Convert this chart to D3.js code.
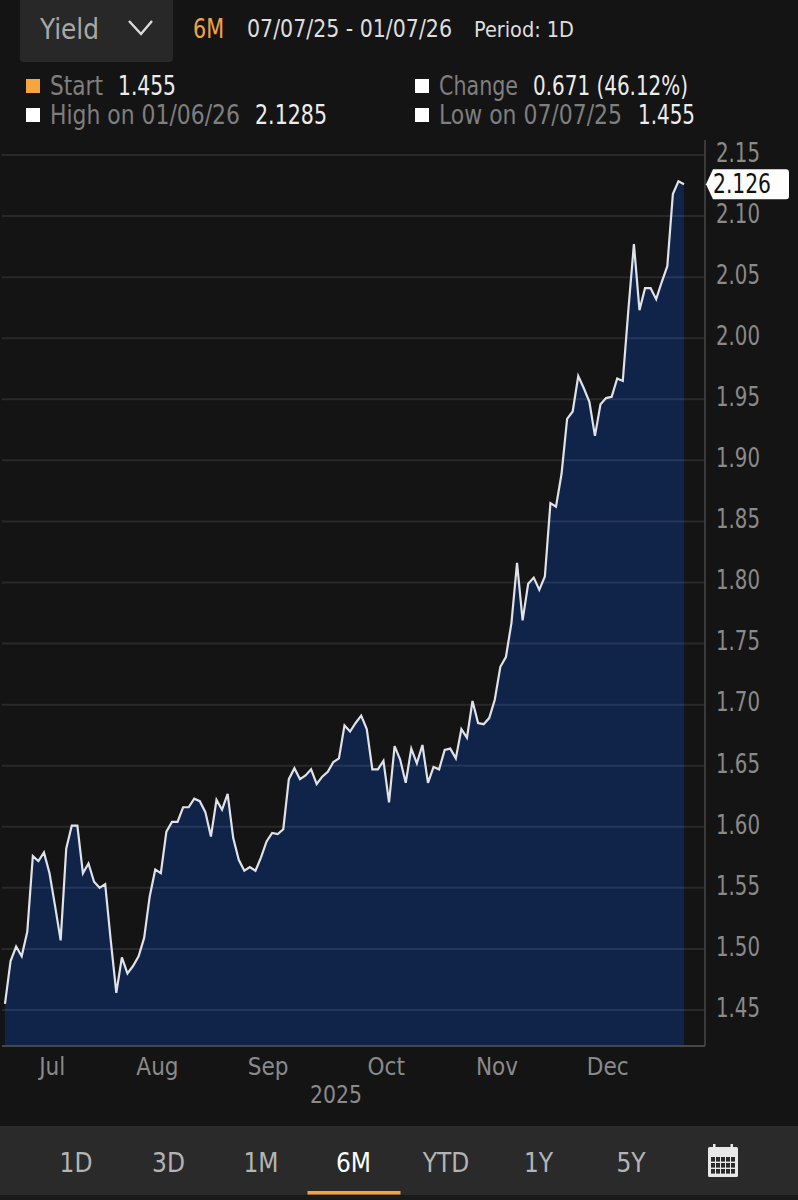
<!DOCTYPE html>
<html>
<head>
<meta charset="utf-8">
<script src="https://cdn.jsdelivr.net/npm/d3@7"></script>
<style>
  html, body { margin: 0; padding: 0; background: #141414; }
  svg { display: block; }
  text { font-family: "Liberation Sans Narrow", "DejaVu Sans Condensed", Roboto, sans-serif; }
</style>
</head>
<body>
<svg id="chart" width="798" height="1200"></svg>
<script>
// daily yield
const yieldValues = [
  1.455, 1.490, 1.502, 1.494, 1.514, 1.576, 1.572, 1.579, 1.562, 1.535,
  1.507, 1.582, 1.601, 1.601, 1.562, 1.570, 1.555, 1.550, 1.553, 1.507,
  1.464, 1.493, 1.480, 1.486, 1.494, 1.509, 1.543, 1.565, 1.562, 1.596,
  1.604, 1.604, 1.616, 1.616, 1.623, 1.621, 1.612, 1.592, 1.622, 1.614,
  1.627, 1.591, 1.573, 1.564, 1.567, 1.564, 1.575, 1.588, 1.595, 1.594,
  1.598, 1.639, 1.648, 1.639, 1.642, 1.647, 1.635, 1.641, 1.645, 1.653,
  1.656, 1.683, 1.678, 1.685, 1.691, 1.680, 1.647, 1.647, 1.654, 1.620,
  1.666, 1.655, 1.636, 1.664, 1.652, 1.667, 1.636, 1.649, 1.647, 1.663,
  1.664, 1.656, 1.680, 1.673, 1.703, 1.685, 1.684, 1.689, 1.704, 1.731,
  1.739, 1.767, 1.816, 1.769, 1.799, 1.804, 1.794, 1.805, 1.865, 1.862,
  1.889, 1.934, 1.940, 1.969, 1.959, 1.948, 1.920, 1.946, 1.951, 1.952,
  1.967, 1.965, 2.023, 2.077, 2.023, 2.041, 2.041, 2.032, 2.046, 2.059,
  2.118, 2.1285, 2.126
];
const lastValue = 2.126;
const yTicks = [2.15, 2.10, 2.05, 2.00, 1.95, 1.90, 1.85, 1.80, 1.75, 1.70, 1.65, 1.60, 1.55, 1.50, 1.45];
const monthLabels = ['Jul', 'Aug', 'Sep', 'Oct', 'Nov', 'Dec'];
const monthCenters = [8.4, 27.3, 47.2, 68.4, 88.3, 108.2]; // in trading days from start
const rangeLabels = ['1D', '3D', '1M', '6M', 'YTD', '1Y', '5Y'];
const activeRange = '6M';

const svg = d3.select('#chart');
const axisX = 705, axisBottom = 1046;

const x = d3.scaleLinear().domain([0, yieldValues.length - 1]).range([5, 684]);
const y = d3.scaleLinear().domain([1.45, 2.15]).range([1010, 155]);

// w squeezes the text to the width it has in the reference
function label(txt, px, py, size, fill, w, anchor) {
  const t = svg.append('text').attr('x', px).attr('y', py)
    .attr('font-size', size).attr('fill', fill)
    .attr('text-anchor', anchor || 'start').text(txt);
  if (w) t.attr('textLength', w).attr('lengthAdjust', 'spacingAndGlyphs');
  return t;
}

// header
svg.append('rect').attr('x', 20).attr('y', -6).attr('width', 153).attr('height', 68).attr('rx', 4).attr('fill', '#282828');
label('Yield', 40, 39, 29, '#a8a8a8', 59);
svg.append('path').attr('d', 'M129,21 L141,34 L152,21').attr('fill', 'none').attr('stroke', '#dcdcdc').attr('stroke-width', 2.4);
label('6M', 193, 38, 27, '#f2a445', 31);
label('07/07/25 - 01/07/26', 247, 37, 24, '#dedede', 205);
label('Period: 1D', 474, 37, 22, '#dedede', 100);

// legend
const gray = '#7f7f7f', white = '#ececec';
svg.append('rect').attr('x', 26).attr('y', 79).attr('width', 14).attr('height', 14).attr('fill', '#f7a63e');
label('Start', 50, 95, 26, gray, 53);
label('1.455', 118, 95, 26, white, 58);
svg.append('rect').attr('x', 415).attr('y', 79).attr('width', 14).attr('height', 14).attr('fill', '#fff');
label('Change', 439, 95, 26, gray, 79);
label('0.671 (46.12%)', 533, 95, 26, white, 155);
svg.append('rect').attr('x', 26).attr('y', 108).attr('width', 14).attr('height', 14).attr('fill', '#fff');
label('High on 01/06/26', 50, 124, 26, gray, 190);
label('2.1285', 255, 124, 26, white, 72);
svg.append('rect').attr('x', 415).attr('y', 108).attr('width', 14).attr('height', 14).attr('fill', '#fff');
label('Low on 07/07/25', 439, 124, 26, gray, 183);
label('1.455', 638, 124, 26, white, 57);

// area + line
const area = d3.area().x((d, i) => x(i)).y0(axisBottom).y1(d => y(d));
const line = d3.line().x((d, i) => x(i)).y(d => y(d));
svg.append('path').datum(yieldValues).attr('d', area).attr('fill', '#10244a');

// grid on top of the area, it shows faintly through
svg.append('g').selectAll('line').data(yTicks).join('line')
  .attr('x1', 2).attr('x2', axisX)
  .attr('y1', d => y(d)).attr('y2', d => y(d))
  .attr('stroke', '#fff').attr('stroke-opacity', 0.09).attr('stroke-width', 2);

svg.append('path').datum(yieldValues).attr('d', line)
  .attr('fill', 'none').attr('stroke', '#dfe2e8').attr('stroke-width', 2.2).attr('stroke-linejoin', 'miter');

// axes
const yAxis = svg.append('g').attr('transform', `translate(${axisX},-2)`)
  .call(d3.axisRight(y).tickValues(yTicks).tickFormat(d3.format('.2f')).tickSize(0).tickPadding(11));
yAxis.select('.domain').remove();
yAxis.selectAll('text').attr('font-size', 26).attr('fill', '#8a8a8a').attr('font-family', null)
  .attr('textLength', 44).attr('lengthAdjust', 'spacingAndGlyphs');
svg.append('line').attr('x1', axisX).attr('x2', axisX).attr('y1', 140).attr('y2', axisBottom).attr('stroke', '#474747').attr('stroke-width', 1.5);

const xAxis = svg.append('g').attr('transform', `translate(0,${axisBottom})`)
  .call(d3.axisBottom(x).tickValues(monthCenters).tickFormat((d, i) => monthLabels[i]).tickSize(0).tickPadding(12));
xAxis.select('.domain').remove();
xAxis.selectAll('text').attr('font-size', 24).attr('fill', '#8a8a8a').attr('font-family', null);
svg.append('line').attr('x1', 2).attr('x2', axisX).attr('y1', axisBottom).attr('y2', axisBottom).attr('stroke', '#474747').attr('stroke-width', 2);
label('2025', 336, 1103, 24, '#8a8a8a', 52, 'middle');

// last value flag
const yl = y(lastValue);
svg.append('path')
  .attr('d', `M706,${yl} L713,${yl - 15} H786 Q789,${yl - 15} 789,${yl - 12} V${yl + 12} Q789,${yl + 15} 786,${yl + 15} H713 Z`)
  .attr('fill', '#fff');
label(lastValue.toFixed(3), 713, yl + 9, 27, '#111', 58);

// bottom bar
svg.append('rect').attr('x', 0).attr('y', 1126).attr('width', 798).attr('height', 69).attr('fill', '#2a2a2a');
svg.append('rect').attr('x', 0).attr('y', 1195).attr('width', 798).attr('height', 5).attr('fill', '#1a1a1a');
const navX = d3.scalePoint().domain(rangeLabels).range([76, 631]);
svg.append('g').selectAll('text').data(rangeLabels).join('text')
  .attr('x', d => navX(d)).attr('y', 1172).attr('text-anchor', 'middle').attr('font-size', 26)
  .attr('fill', d => d === activeRange ? '#ffffff' : '#b4b4b4').text(d => d);
svg.append('rect').attr('x', navX(activeRange) - 46).attr('y', 1191).attr('width', 93).attr('height', 3.5).attr('fill', '#f2a445');

// calendar icon
const cal = svg.append('g').attr('transform', 'translate(708,1144)');
cal.append('rect').attr('x', 0).attr('y', 3).attr('width', 30).attr('height', 30).attr('rx', 1.5).attr('fill', '#e8e8e8');
cal.append('rect').attr('x', 5).attr('y', 0).attr('width', 2.5).attr('height', 5).attr('fill', '#e8e8e8');
cal.append('rect').attr('x', 22.5).attr('y', 0).attr('width', 2.5).attr('height', 5).attr('fill', '#e8e8e8');
d3.range(3).forEach(r => d3.range(5).forEach(c => {
  cal.append('rect').attr('x', 3 + c * 5).attr('y', 13 + r * 6).attr('width', 4).attr('height', 4.6).attr('fill', '#2a2a2a');
}));
</script>
</body>
</html>
